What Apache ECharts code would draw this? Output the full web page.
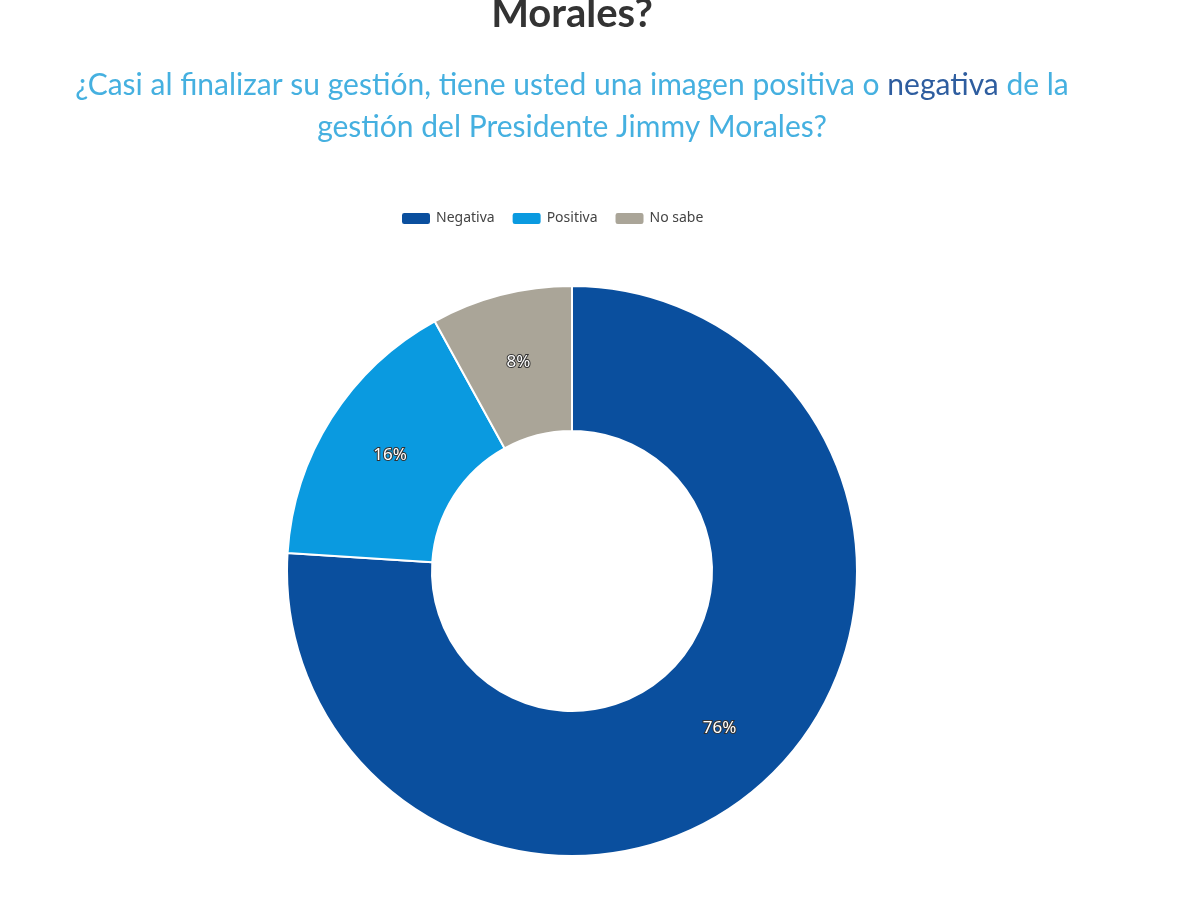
<!DOCTYPE html>
<html><head><meta charset="utf-8">
<script src="https://cdn.jsdelivr.net/npm/echarts@6/dist/echarts.min.js"></script>
<style>html,body{margin:0;padding:0;background:#fff}#c{width:1200px;height:900px}</style>
</head><body><div id="c"></div>
<script>
// datos de la encuesta
const categories = ["Negativa", "Positiva", "No sabe"];
const values = [76, 16, 8];
const colors = ["#0a4f9e", "#0a9ae0", "#aaa598"];

const chart = echarts.init(document.getElementById("c"));
chart.setOption({
  animation: false,
  graphic: [
    { type: "text", x: 572, y: -6,
      style: { text: "Morales?", font: "bold 40px Lato", fill: "#333", align: "center" } },
    { type: "text", x: 572, y: 64,
      style: {
        text: "{a|¿Casi al finalizar su gestión, tiene usted una imagen positiva o }{b|negativa}{a| de la}\n{a|gestión del Presidente Jimmy Morales?}",
        align: "center",
        rich: {
          a: { fontFamily: "Lato", fontSize: 30, fill: "#45b0e0", lineHeight: 42, align: "center" },
          b: { fontFamily: "Lato", fontSize: 30, fill: "#2e5d9f", lineHeight: 42 }
        }
      } }
  ],
  legend: {
    data: categories, top: 206, left: 395, itemWidth: 30, itemHeight: 13, itemGap: 16,
    textStyle: { fontFamily: "Noto Sans", fontSize: 14, color: "#444" }
  },
  series: [{
    type: "pie",
    center: [572, 571],
    radius: [140, 285],
    startAngle: 90,
    clockwise: true,
    data: categories.map((n, i) => ({ name: n, value: values[i], itemStyle: { color: colors[i] } })),
    itemStyle: { borderColor: "#fff", borderWidth: 2 },
    label: {
      position: "inside", formatter: "{c}%", fontFamily: "Noto Sans", fontSize: 17,
      color: "#fff", textBorderColor: "#333", textBorderWidth: 2
    },
    labelLine: { show: false }
  }]
});
</script></body></html>
